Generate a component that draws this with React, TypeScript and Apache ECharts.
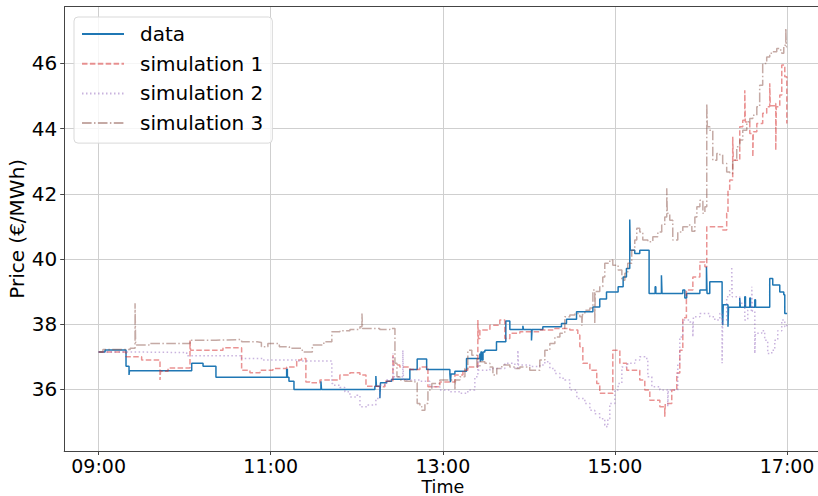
import React, { useEffect, useRef } from "react";
import * as echarts from "echarts";

// time in minutes after 09:00, price in €/MWh
const dataSeries: [number, number][] = [
  [0, 37.15], [4.5, 37.21], [19.1, 36.71], [21.2, 36.44], [21.5, 36.57],
  [64.9, 36.8], [72.8, 36.71], [81.8, 36.37], [131.1, 36.62], [131.6, 36.37],
  [132.7, 36.25], [136.2, 36.0], [155, 36.25], [155.4, 36.0], [192.6, 36.1],
  [193.3, 36.41], [193.7, 36.1], [196.1, 35.73], [196.5, 36.2], [199.6, 36.2],
  [200.8, 36.25], [204.3, 36.31], [217, 36.61], [222.1, 36.93], [228.7, 36.61],
  [244.9, 36.47], [245.3, 36.22], [245.7, 36.47], [248.4, 36.56], [256.5, 36.95],
  [265.8, 37.1], [266.2, 36.85], [266.6, 37.15], [267.2, 36.9], [268, 37.15],
  [269.3, 37.2], [277.4, 37.46], [283.9, 38.1], [286.7, 37.84], [295.8, 37.95],
  [296.2, 37.84], [301.8, 37.5], [302.2, 37.84], [309.7, 37.92], [322.7, 38.02],
  [326.2, 38.15], [333.2, 38.38], [344.6, 38.53], [349.4, 38.77], [354.1, 38.99],
  [362.2, 39.15], [365.7, 39.45], [368, 39.71], [370.3, 41.21], [370.7, 40.27],
  [373.8, 40.17], [377.3, 40.27], [383.8, 38.94], [388, 39.15], [388.5, 38.94],
  [392.4, 39.5], [392.8, 38.94], [407.3, 39.05], [408.7, 38.8], [410, 38.94],
  [419.2, 39.05], [423.8, 39.76], [424.2, 38.94], [426.1, 39.3], [434.7, 38.43],
  [435.1, 37.97], [435.5, 38.6], [438.8, 37.92], [439.2, 38.52], [447, 38.8],
  [447.4, 38.52], [450.5, 38.84], [451, 38.52], [454, 38.8], [454.5, 38.52],
  [457.5, 38.75], [458, 38.52], [467.9, 39.4], [470, 39.2], [474.9, 38.99],
  [477.7, 38.9], [478.4, 38.33], [480, 38.33],
];

const simulation1: [number, number][] = [
  [0, 37.15], [19.1, 37.0], [30, 36.9], [42.8, 36.29], [43.2, 36.56],
  [48.4, 36.66], [63.7, 37.5], [64.1, 37.2], [86.7, 37.28], [99.7, 36.59],
  [105.5, 36.51], [112.5, 36.59], [121.5, 36.64], [131.1, 36.69], [138.1, 36.9],
  [141.5, 36.95], [144.5, 36.23], [147.3, 36.2], [154.3, 36.29], [168.2, 36.44],
  [175.2, 36.51], [182.2, 36.44], [186.4, 36.1], [193.3, 36.08], [199.6, 36.25],
  [205.2, 37.05], [205.6, 36.75], [210, 36.69], [217, 36.61], [224, 36.69],
  [229.6, 36.08], [237.9, 36.23], [248.4, 36.44], [254, 36.59], [257.4, 36.69],
  [264.4, 38.13], [264.8, 37.56], [265.8, 37.82], [272.8, 37.97], [279.7, 38.13],
  [283.2, 37.56], [286.7, 37.72], [293.7, 37.77], [307.6, 37.82], [318.1, 37.87],
  [328.5, 37.82], [334.1, 37.67], [335.5, 37.31], [337.6, 36.8], [342.5, 36.59],
  [347.3, 36.18], [349.4, 35.88], [358.5, 37.2], [363.4, 36.8], [368.2, 36.59],
  [377.3, 36.29], [380.8, 35.98], [384.3, 35.67], [391.3, 35.47], [394.7, 35.16],
  [395.1, 35.57], [399.6, 35.98], [403.1, 36.5], [405.2, 37.2], [407.3, 38.2],
  [409.8, 39.05], [414.3, 39.45], [419.2, 39.91], [422.7, 39.76], [424, 40.99],
  [433.1, 40.99], [435.1, 40.89], [437.9, 41.4], [438.8, 42.11], [440, 42.42],
  [442.1, 43.75], [442.5, 43.03], [447, 44.06], [449.1, 44.26], [450.5, 45.18],
  [450.9, 44.2], [454, 43.85], [456.1, 43.13], [456.5, 43.9], [458.9, 44.16],
  [463, 44.47], [465.8, 44.67], [467.9, 45.39], [468.3, 44.7], [471.4, 44.77],
  [472.1, 43.34], [472.5, 44.67], [474.9, 45.03], [476.3, 45.95], [478.4, 45.59],
  [479.8, 44.16], [480, 44.16],
];

const simulation2: [number, number][] = [
  [0, 37.15], [19.5, 37.13], [61.4, 37.03], [99.7, 36.95], [114.5, 36.9],
  [138.1, 36.87], [162.6, 36.18], [163.3, 36.13], [168.2, 36.06], [171.7, 35.93],
  [175.2, 35.77], [180, 35.82], [182.2, 35.47], [187.8, 35.52], [193.3, 35.72],
  [196.1, 36.13], [200.8, 36.29], [205.2, 37.1], [205.6, 36.39], [210, 36.39],
  [212.1, 37.2], [212.5, 36.29], [217, 36.29], [224, 36.25], [230.9, 36.08],
  [237.9, 35.98], [244.9, 35.93], [251.9, 35.88], [257.4, 35.98], [262.3, 36.39],
  [264.4, 36.9], [264.8, 36.59], [272.8, 36.64], [283.2, 36.8], [290.2, 36.64],
  [292.3, 37.2], [292.7, 36.75], [300.6, 36.7], [307.6, 36.75], [311.1, 36.85],
  [314.6, 36.64], [318.1, 36.49], [321.6, 36.34], [325, 36.29], [328.5, 35.98],
  [333.4, 35.72], [339, 35.57], [342.5, 35.36], [345.9, 35.25], [349.4, 35.1],
  [352.9, 34.9], [354.3, 34.85], [355, 35.1], [356.4, 35.57], [359.9, 35.98],
  [362.2, 36.18], [364.8, 36.69], [368.9, 36.8], [373.8, 36.9], [377.3, 37.0],
  [380.8, 36.95], [382.9, 36.39], [385.7, 36.08], [391.3, 35.98], [396.8, 35.47],
  [397.2, 35.98], [403.8, 36.8], [405.2, 37.61], [407.3, 38.13], [412.2, 38.07],
  [414.3, 37.61], [414.7, 38.23], [419.2, 38.33], [426.1, 38.23], [429.6, 38.13],
  [433.1, 38.33], [434.7, 36.8], [435.1, 38.13], [437.9, 38.84], [440, 39.05],
  [441.4, 39.76], [441.8, 38.84], [447, 38.64], [450.5, 38.13], [452.6, 38.43],
  [455.4, 39.15], [455.8, 38.4], [457.5, 37.1], [457.9, 37.72], [462.3, 37.8],
  [464.4, 37.51], [466.5, 37.1], [469.3, 37.2], [471.4, 37.51], [473.5, 37.8],
  [476.3, 38.13], [478.4, 37.92], [479.8, 38.02], [480, 38.02],
];

const simulation3: [number, number][] = [
  [0, 37.15], [3, 37.22], [22, 37.26], [25.4, 38.64], [25.8, 37.36],
  [35.2, 37.41], [63.7, 37.51], [81.8, 37.53], [99.7, 37.46], [110.5, 37.44],
  [113.5, 37.31], [118, 37.41], [126, 37.31], [133, 37.26], [142, 37.15],
  [149, 37.36], [157, 37.46], [162.6, 37.77], [168.2, 37.8], [175.2, 37.84],
  [182.2, 37.92], [183.6, 38.33], [184, 37.87], [196, 37.84], [203, 37.87],
  [206.6, 36.8], [208, 36.39], [210, 36.29], [213.5, 36.25], [220.5, 36.2],
  [222.1, 35.57], [224, 35.47], [225.4, 35.36], [227.5, 35.57], [229.6, 35.98],
  [232.3, 36.18], [237.9, 36.29], [248.4, 35.98], [248.8, 36.29], [251.9, 36.39],
  [255.4, 36.64], [257.4, 37.2], [260.2, 37.05], [263.7, 36.69], [265.8, 36.85],
  [269.3, 36.8], [272.8, 36.69], [274.9, 36.44], [277.6, 36.64], [281.1, 36.75],
  [286.7, 36.69], [290.2, 36.64], [293.7, 36.69], [300.6, 36.59], [307.6, 36.9],
  [311.1, 37.2], [314.6, 37.41], [318.1, 37.61], [321.6, 37.72], [325, 38.23],
  [328.5, 38.28], [332, 38.33], [335.5, 38.23], [336.9, 37.95], [337.3, 38.3],
  [339, 38.43], [342.5, 38.5], [344.6, 39.05], [345.9, 38.02], [346.3, 39.0],
  [349.4, 39.15], [351.5, 39.45], [352.9, 39.87], [356.4, 39.97], [358.5, 39.81],
  [362.2, 39.66], [364.8, 39.35], [366.9, 39.56], [368.9, 39.87], [371.7, 40.27],
  [373.8, 40.58], [375.2, 40.94], [377.3, 40.83], [379.4, 40.58], [382.9, 40.53],
  [386.4, 40.68], [389.9, 40.83], [392.6, 41.04], [394.7, 41.29], [396.1, 42.17],
  [396.5, 41.4], [398.2, 41.19], [400.3, 40.58], [403.8, 40.83], [407.3, 40.99],
  [410.8, 41.04], [413.6, 40.85], [415.7, 41.29], [417.1, 41.6], [419.2, 41.8],
  [421.3, 41.4], [422.7, 41.6], [424, 44.77], [424.4, 44.06], [426.1, 43.95],
  [428.2, 43.03], [431, 43.24], [433.1, 43.2], [435.1, 42.93], [437.9, 42.67],
  [440, 42.62], [442.1, 43.03], [444.9, 43.44], [447, 43.65], [449.1, 43.95],
  [451.9, 44.21], [454, 44.31], [456.1, 44.41], [458.9, 44.67], [460.9, 45.33],
  [463, 46.0], [465.8, 46.2], [467.9, 46.31], [470, 46.36], [472.8, 46.46],
  [474.9, 46.41], [476.3, 46.31], [477.7, 46.56], [479.1, 47.07], [479.5, 46.51],
  [480, 46.51],
];

const seriesNames = ["data", "simulation 1", "simulation 2", "simulation 3"];
const xTicks = [0, 120, 240, 360, 480];
const yTicks = [36, 38, 40, 42, 44, 46];

const FONT = "DejaVu Sans";

function fmtTime(m: number): string {
  const total = Math.round(9 * 60 + m);
  const h = Math.floor(total / 60);
  const mm = total % 60;
  return String(h).padStart(2, "0") + ":" + String(mm).padStart(2, "0");
}

export default function App() {
  const ref = useRef<HTMLDivElement>(null);
  useEffect(() => {
    if (!ref.current) return;
    const chart = echarts.init(ref.current, undefined, { renderer: "svg" });
    const styles = [
      { color: "#1f77b4", opacity: 1, type: "solid" as any },
      { color: "#d62728", opacity: 0.5, type: [5.5, 2.4] },
      { color: "#9467bd", opacity: 0.5, type: [1.5, 2.5] },
      { color: "#8c564b", opacity: 0.5, type: [9.6, 2.4, 1.5, 2.4] },
    ];
    const datas = [dataSeries, simulation1, simulation2, simulation3];
    chart.setOption({
      animation: false,
      backgroundColor: "#ffffff",
      textStyle: { fontFamily: FONT },
      grid: {
        left: 64.2,
        top: 6.7,
        width: 757.3,
        height: 444.3,
        containLabel: false,
        outerBoundsMode: "none",
      },
      legend: {
        orient: "vertical",
        left: 74,
        top: 17,
        padding: [7, 9, 10, 7],
        itemGap: 9.7,
        itemWidth: 42,
        itemHeight: 20,
        backgroundColor: "rgba(255,255,255,0.8)",
        borderColor: "#d9d9d9",
        borderWidth: 1,
        borderRadius: 4,
        data: seriesNames,
        itemStyle: { color: "rgba(0,0,0,0)", borderColor: "rgba(0,0,0,0)", borderWidth: 0, opacity: 0 },
        textStyle: {
          fontFamily: FONT,
          fontSize: 20,
          color: "#000",
          padding: [0, 0, 0, 11],
          lineHeight: 20,
        },
      },
      xAxis: {
        type: "value",
        min: -24,
        max: 504,
        name: "Time",
        nameLocation: "middle",
        nameGap: 25.5,
        nameMoveOverlap: false,
        nameTextStyle: { fontFamily: FONT, fontSize: 17.5, color: "#000", lineHeight: 20 },
        axisLine: { show: true, onZero: false, lineStyle: { color: "#444", width: 1 } },
        axisTick: { show: true, length: 4, lineStyle: { color: "#444" }, customValues: xTicks },
        axisLabel: {
          customValues: xTicks,
          formatter: (v: number) => fmtTime(v),
          fontFamily: FONT,
          fontSize: 19,
          lineHeight: 20,
          color: "#000",
          margin: 5,
        },
        splitLine: { show: true, lineStyle: { color: "#cfcfcf", width: 1 } },
      },
      yAxis: {
        type: "value",
        min: 34.11,
        max: 47.74,
        name: "Price (€/MWh)",
        nameLocation: "middle",
        nameGap: 37,
        nameMoveOverlap: false,
        nameTextStyle: { fontFamily: FONT, fontSize: 20, color: "#000", lineHeight: 20 },
        axisLine: { show: true, onZero: false, lineStyle: { color: "#444", width: 1 } },
        axisTick: { show: true, length: 4, lineStyle: { color: "#444" }, customValues: yTicks },
        axisLabel: {
          customValues: yTicks,
          formatter: (v: number) => String(Math.round(v)),
          fontFamily: FONT,
          fontSize: 20,
          color: "#000",
          margin: 7,
        },
        splitLine: { show: true, lineStyle: { color: "#cfcfcf", width: 1 } },
      },
      series: [
        ...datas.map((d, i) => ({
          name: seriesNames[i],
          type: "line",
          step: "end",
          data: d,
          symbol: "none",
          showSymbol: false,
          itemStyle: { color: styles[i].color, opacity: styles[i].opacity },
          lineStyle: {
            color: styles[i].color,
            opacity: styles[i].opacity,
            width: 1.5,
            type: styles[i].type,
          },
          z: 2 + i,
        })),
        {
          type: "line",
          data: [],
          silent: true,
          markLine: {
            silent: true,
            symbol: "none",
            label: { show: false },
            lineStyle: { color: "#444", width: 1, type: "solid" },
            data: [[{ coord: [-24, 47.74] }, { coord: [504, 47.74] }]],
          },
        },
      ],
    });
    return () => chart.dispose();
  }, []);
  return (
    <div
      ref={ref}
      style={{ position: "fixed", left: 0, top: 0, width: 818, height: 496, background: "#fff" }}
    />
  );
}
